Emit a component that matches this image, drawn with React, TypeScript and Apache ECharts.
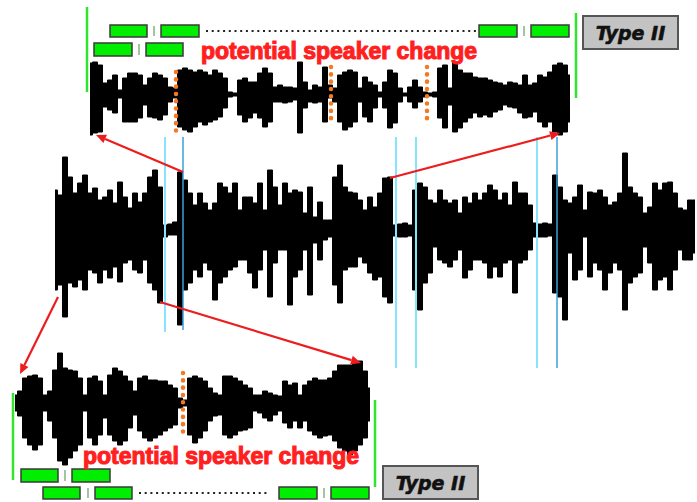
import React, { useEffect, useRef } from "react";
import * as echarts from "echarts";

// Envelope amplitudes (px) sampled every 5 px along each waveform
const midUpper = [
  40, 35, 73, 53, 37, 47, 55, 37, 42, 30,
  33, 40, 27, 48, 33, 22, 37, 28, 37, 53,
  60, 43, 5, 6, 8, 58, 50, 37, 25, 37,
  27, 20, 27, 47, 43, 37, 47, 20, 33, 33,
  27, 47, 20, 60, 43, 25, 47, 37, 40, 38,
  17, 43, 13, 28, 10, 10, 53, 65, 43, 38,
  37, 30, 20, 33, 23, 37, 52, 53, 5, 6,
  7, 5, 40, 47, 43, 30, 27, 40, 30, 27,
  30, 17, 33, 27, 37, 30, 37, 45, 40, 30,
  37, 25, 48, 37, 37, 25, 7, 6, 7, 6,
  55, 43, 30, 27, 33, 45, 20, 38, 37, 40,
  33, 25, 28, 37, 77, 43, 37, 33, 17, 23,
  47, 40, 47, 48, 37, 22, 20, 30, 30,
];
const midLower = [
  60, 55, 87, 53, 57, 50, 60, 40, 43, 53,
  40, 48, 37, 52, 33, 30, 40, 43, 30, 53,
  60, 73, 7, 5, 5, 95, 60, 53, 40, 47,
  33, 40, 70, 53, 47, 40, 37, 30, 30, 43,
  58, 40, 20, 67, 33, 20, 20, 75, 47, 40,
  20, 65, 13, 30, 10, 7, 55, 73, 40, 37,
  37, 27, 33, 43, 50, 47, 67, 73, 6, 7,
  7, 6, 60, 80, 53, 43, 17, 30, 33, 37,
  30, 20, 48, 40, 30, 30, 33, 48, 37, 47,
  33, 30, 63, 33, 30, 20, 7, 7, 7, 6,
  63, 67, 90, 23, 50, 40, 7, 47, 33, 40,
  60, 43, 33, 40, 80, 53, 47, 43, 17, 33,
  60, 50, 47, 60, 40, 20, 30, 30, 23,
];
const topUpper = [
  32, 33, 30, 12, 15, 20, 5, 17, 22, 22,
  20, 10, 17, 22, 20, 17, 8, 7, 25, 27,
  25, 23, 25, 23, 20, 25, 22, 17, 3, 2,
  15, 17, 13, 13, 22, 27, 22, 8, 10, 8,
  8, 7, 33, 13, 5, 10, 8, 28, 10, 7,
  20, 23, 25, 23, 7, 18, 13, 10, 3, 13,
  25, 22, 7, 2, 8, 15, 8, 3, 2, 3,
  27, 30, 7, 33, 25, 22, 22, 18, 17, 17,
  15, 13, 12, 10, 13, 12, 10, 20, 10, 12,
  20, 18, 23, 30, 32, 30, 20,
];
const topLower = [
  40, 38, 37, 12, 15, 18, 3, 27, 27, 27,
  23, 10, 22, 23, 25, 20, 7, 3, 32, 35,
  37, 32, 27, 30, 27, 25, 22, 13, 2, 1,
  20, 27, 23, 18, 23, 32, 27, 7, 7, 8,
  7, 5, 38, 13, 7, 8, 7, 27, 3, 7,
  27, 35, 32, 27, 7, 22, 27, 13, 2, 13,
  33, 28, 7, 1, 7, 13, 7, 2, 1, 2,
  23, 33, 10, 37, 33, 27, 23, 18, 22, 20,
  22, 17, 15, 10, 12, 13, 18, 23, 22, 17,
  27, 32, 27, 37, 40, 37, 27,
];
const botUpper = [
  8, 12, 25, 27, 28, 25, 8, 12, 33, 50,
  35, 33, 32, 25, 8, 25, 27, 22, 8, 28,
  35, 32, 27, 22, 12, 25, 27, 23, 23, 22,
  22, 18, 15, 5, 3, 25, 27, 25, 22, 15,
  10, 8, 27, 27, 25, 22, 18, 15, 8, 8,
  12, 10, 8, 7, 22, 18, 20, 8, 18, 22,
  25, 23, 23, 25, 32, 38, 38, 38, 40, 42,
  32, 15,
];
const botLower = [
  8, 13, 35, 42, 47, 42, 8, 18, 35, 58,
  62, 55, 48, 42, 8, 35, 42, 32, 15, 32,
  38, 42, 38, 25, 12, 28, 35, 38, 35, 32,
  28, 25, 22, 5, 3, 32, 40, 35, 28, 18,
  13, 12, 32, 35, 32, 28, 27, 25, 8, 10,
  15, 18, 12, 8, 20, 25, 18, 25, 18, 28,
  32, 35, 33, 32, 38, 45, 48, 52, 48, 42,
  35, 18,
];

const LABEL = "potential speaker change";
const TYPE_LABEL = "Type II";

const GREEN = "#2fe62f";
const RED = "#ee1c1c";
const ORANGE = "#f47920";

function arrow(x1: number, y1: number, x2: number, y2: number) {
  const a = Math.atan2(y2 - y1, x2 - x1);
  const L = 10, w = 4.5;
  const bx = x2 - L * Math.cos(a), by = y2 - L * Math.sin(a);
  const px = -Math.sin(a) * w, py = Math.cos(a) * w;
  return [
    { type: "line", z: 20, shape: { x1, y1, x2: bx, y2: by }, style: { stroke: RED, lineWidth: 2.2 } },
    { type: "polygon", z: 20, shape: { points: [[x2, y2], [bx + px, by + py], [bx - px, by - py]] }, style: { fill: RED } },
  ];
}
function vline(x: number, y1: number, y2: number, color: string, w: number) {
  return { type: "line", z: 15, shape: { x1: x, y1, x2: x, y2 }, style: { stroke: color, lineWidth: w } };
}
function dots(x: number, y1: number, y2: number) {
  return { type: "line", z: 16, shape: { x1: x, y1, x2: x, y2 }, style: { stroke: ORANGE, lineWidth: 4.5, lineDash: [0.1, 7.2], lineCap: "round" } };
}
function gbox(x: number, y: number, w: number, h: number) {
  return { type: "rect", z: 15, shape: { x, y, width: w, height: h }, style: { fill: "#00ee00", stroke: "#3a3a3a", lineWidth: 1.5 } };
}
function tick(x: number, y1: number, y2: number) {
  return { type: "line", z: 15, shape: { x1: x, y1, x2: x, y2 }, style: { stroke: "#5f9f5f", lineWidth: 1.2 } };
}
function dotted(x1: number, x2: number, y: number) {
  return { type: "line", z: 15, shape: { x1, y1: y, x2, y2: y }, style: { stroke: "#222", lineWidth: 2, lineDash: [2, 3.7] } };
}
function typeBox(x: number, y: number) {
  return [
    { type: "rect", z: 15, shape: { x, y, width: 95, height: 33 }, style: { fill: "#c3c3c3", stroke: "#555", lineWidth: 2 } },
    { type: "text", z: 16, x: x + 47.5, y: y + 17, style: { text: TYPE_LABEL, font: 'italic bold 19px "DejaVu Sans"', fill: "#111", stroke: "#111", lineWidth: 0.6, align: "center", verticalAlign: "middle" } },
  ];
}
function redText(x: number, y: number) {
  return { type: "text", z: 18, x, y, style: { text: LABEL, font: 'bold 23px "Liberation Sans", Arial', fill: "#ff1f1f", stroke: "#ff1f1f", lineWidth: 1.1, align: "left", verticalAlign: "middle" } };
}

function waveSeries(idx: number, up: number[], lo: number[]) {
  const base = {
    type: "line", xAxisIndex: idx, yAxisIndex: idx, silent: true,
    step: "middle", symbol: "none",
    lineStyle: { color: "#000", width: 1 },
    areaStyle: { color: "#000", opacity: 1 },
  };
  return [
    { ...base, data: up },
    { ...base, data: lo.map((v) => -v) },
  ];
}

export default function App() {
  const ref = useRef<HTMLDivElement>(null);
  useEffect(() => {
    const chart = echarts.init(ref.current!, null, { renderer: "svg" });
    const cat = (n: number) => Array.from({ length: n }, (_, i) => String(i));
    const grids = [
      { left: 55, top: 130, width: (midUpper.length - 1) * 5, height: 200 },
      { left: 90, top: 50, width: (topUpper.length - 1) * 5, height: 90 },
      { left: 15, top: 338, width: (botUpper.length - 1) * 5, height: 130 },
    ];
    const ranges = [100, 45, 65];
    const lens = [midUpper.length, topUpper.length, botUpper.length];
    chart.setOption({
      animation: false,
      backgroundColor: "#fff",
      grid: grids,
      xAxis: lens.map((n, i) => ({ type: "category", gridIndex: i, data: cat(n), show: false, boundaryGap: false })),
      yAxis: ranges.map((r, i) => ({ type: "value", gridIndex: i, min: -r, max: r, show: false })),
      series: [
        ...waveSeries(0, midUpper, midLower),
        ...waveSeries(1, topUpper, topLower),
        ...waveSeries(2, botUpper, botLower),
      ],
      graphic: [
        // cyan markers
        vline(165, 137, 332, "#86e4ff", 2),
        vline(183, 137, 330, "#3a9fdc", 1.5),
        vline(396, 137, 368, "#86e4ff", 2),
        vline(416, 137, 368, "#86e4ff", 2),
        vline(537, 137, 368, "#86e4ff", 2),
        vline(557, 137, 368, "#3a9fdc", 1.5),
        // green borders
        vline(87, 7, 92, GREEN, 2.5),
        vline(576, 13, 98, GREEN, 2.5),
        vline(13, 393, 480, GREEN, 2.5),
        vline(375, 400, 487, GREEN, 2.5),
        // orange potential change lines
        dots(176, 72, 132),
        dots(331, 67, 125),
        dots(427, 67, 125),
        dots(183, 373, 433),
        // top segment boxes
        gbox(110, 25, 37, 12), tick(154, 26, 36), gbox(161, 25, 38, 12),
        dotted(206, 477, 31),
        gbox(479, 25, 38, 12), tick(524, 26, 36), gbox(531, 25, 38, 12),
        gbox(94, 43, 38, 13), tick(139, 44, 55), gbox(146, 43, 37, 13),
        // bottom segment boxes
        gbox(21, 469, 37, 13), tick(65, 470, 481), gbox(72, 469, 38, 13),
        gbox(43, 487, 37, 12), tick(88, 488, 498), gbox(95, 487, 37, 12),
        dotted(139, 270, 493),
        gbox(279, 487, 38, 12), tick(324, 488, 498), gbox(331, 487, 38, 12),
        // labels
        redText(201, 51),
        redText(83, 456),
        ...typeBox(583, 16),
        ...typeBox(383, 466),
        // arrows
        ...arrow(58, 297, 20, 374),
        ...arrow(183, 172, 96, 135),
        ...arrow(160, 302, 361, 363),
        ...arrow(390, 178, 560, 133),
      ],
    });
    return () => chart.dispose();
  }, []);
  return (
    <div
      ref={ref}
      style={{ position: "fixed", left: 0, top: 0, width: 697, height: 502, background: "#fff" }}
    />
  );
}
